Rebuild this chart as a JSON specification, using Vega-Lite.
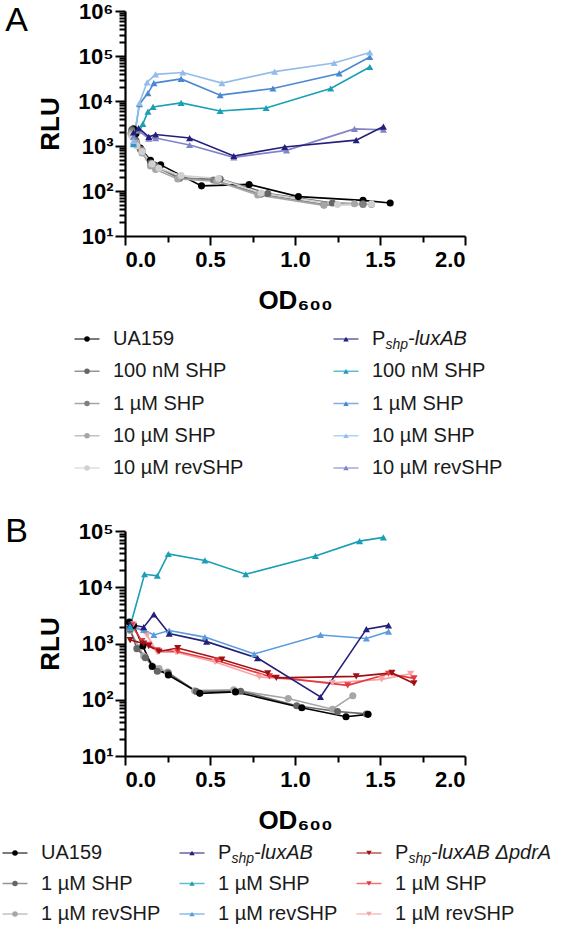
{
  "$schema": "https://vega.github.io/schema/vega-lite/v6.json",
  "padding": {"left": 2, "top": 0, "right": 0, "bottom": 0},
  "spacing": 10,
  "background": "white",
  "config": {
    "font": "Liberation Sans",
    "view": {"stroke": null},
    "axis": {
      "domainColor": "#000000", "domainWidth": 2.2, "tickColor": "#000000", "tickWidth": 2,
      "labelColor": "#000000", "labelFont": "Liberation Sans", "labelFontWeight": "bold", "labelFontSize": 22,
      "titleFont": "Liberation Sans", "titleFontWeight": "bold", "titleFontSize": 26, "titleColor": "#000000",
      "grid": false
    }
  },
  "resolve": {"scale": {"x": "independent", "y": "independent"}},
  "datasets": {
    "A": [
      {"s":"a0","g":"wt","od":0.05,"rlu":2400},{"s":"a0","g":"wt","od":0.065,"rlu":1900},{"s":"a0","g":"wt","od":0.09,"rlu":900},{"s":"a0","g":"wt","od":0.15,"rlu":480},{"s":"a0","g":"wt","od":0.21,"rlu":380},{"s":"a0","g":"wt","od":0.45,"rlu":130},{"s":"a0","g":"wt","od":0.73,"rlu":140},{"s":"a0","g":"wt","od":1.02,"rlu":75},{"s":"a0","g":"wt","od":1.40,"rlu":62},{"s":"a0","g":"wt","od":1.56,"rlu":54},
      {"s":"a1","g":"wt","od":0.04,"rlu":2300},{"s":"a1","g":"wt","od":0.065,"rlu":1300},{"s":"a1","g":"wt","od":0.09,"rlu":850},{"s":"a1","g":"wt","od":0.15,"rlu":420},{"s":"a1","g":"wt","od":0.18,"rlu":360},{"s":"a1","g":"wt","od":0.32,"rlu":190},{"s":"a1","g":"wt","od":0.56,"rlu":185},{"s":"a1","g":"wt","od":0.84,"rlu":88},{"s":"a1","g":"wt","od":1.22,"rlu":54},{"s":"a1","g":"wt","od":1.40,"rlu":52},
      {"s":"a2","g":"wt","od":0.04,"rlu":2100},{"s":"a2","g":"wt","od":0.07,"rlu":1100},{"s":"a2","g":"wt","od":0.10,"rlu":800},{"s":"a2","g":"wt","od":0.16,"rlu":380},{"s":"a2","g":"wt","od":0.19,"rlu":330},{"s":"a2","g":"wt","od":0.32,"rlu":200},{"s":"a2","g":"wt","od":0.52,"rlu":175},{"s":"a2","g":"wt","od":0.80,"rlu":85},{"s":"a2","g":"wt","od":1.17,"rlu":50},{"s":"a2","g":"wt","od":1.40,"rlu":50},
      {"s":"a3","g":"wt","od":0.035,"rlu":1900},{"s":"a3","g":"wt","od":0.065,"rlu":1200},{"s":"a3","g":"wt","od":0.10,"rlu":700},{"s":"a3","g":"wt","od":0.15,"rlu":360},{"s":"a3","g":"wt","od":0.18,"rlu":300},{"s":"a3","g":"wt","od":0.31,"rlu":185},{"s":"a3","g":"wt","od":0.54,"rlu":165},{"s":"a3","g":"wt","od":0.78,"rlu":82},{"s":"a3","g":"wt","od":1.17,"rlu":48},{"s":"a3","g":"wt","od":1.35,"rlu":52},{"s":"a3","g":"wt","od":1.45,"rlu":50},
      {"s":"a4","g":"wt","od":0.04,"rlu":1700},{"s":"a4","g":"wt","od":0.07,"rlu":1000},{"s":"a4","g":"wt","od":0.10,"rlu":750},{"s":"a4","g":"wt","od":0.16,"rlu":400},{"s":"a4","g":"wt","od":0.20,"rlu":320},{"s":"a4","g":"wt","od":0.33,"rlu":220},{"s":"a4","g":"wt","od":0.55,"rlu":190},{"s":"a4","g":"wt","od":0.80,"rlu":90},{"s":"a4","g":"wt","od":1.25,"rlu":50},{"s":"a4","g":"wt","od":1.45,"rlu":52},
      {"s":"a9","g":"lux","od":0.05,"rlu":1600},{"s":"a9","g":"lux","od":0.08,"rlu":2200},{"s":"a9","g":"lux","od":0.14,"rlu":1450},{"s":"a9","g":"lux","od":0.18,"rlu":1500},{"s":"a9","g":"lux","od":0.38,"rlu":1050},{"s":"a9","g":"lux","od":0.64,"rlu":560},{"s":"a9","g":"lux","od":0.95,"rlu":800},{"s":"a9","g":"lux","od":1.35,"rlu":2400},{"s":"a9","g":"lux","od":1.52,"rlu":2300},
      {"s":"a5","g":"lux","od":0.05,"rlu":2000},{"s":"a5","g":"lux","od":0.08,"rlu":2500},{"s":"a5","g":"lux","od":0.14,"rlu":1600},{"s":"a5","g":"lux","od":0.18,"rlu":1800},{"s":"a5","g":"lux","od":0.38,"rlu":1500},{"s":"a5","g":"lux","od":0.64,"rlu":600},{"s":"a5","g":"lux","od":0.94,"rlu":950},{"s":"a5","g":"lux","od":1.36,"rlu":1350},{"s":"a5","g":"lux","od":1.52,"rlu":2700},
      {"s":"a6","g":"lux","od":0.05,"rlu":1100},{"s":"a6","g":"lux","od":0.105,"rlu":3100},{"s":"a6","g":"lux","od":0.135,"rlu":5800},{"s":"a6","g":"lux","od":0.165,"rlu":7400},{"s":"a6","g":"lux","od":0.33,"rlu":9100},{"s":"a6","g":"lux","od":0.56,"rlu":6000},{"s":"a6","g":"lux","od":0.83,"rlu":7000},{"s":"a6","g":"lux","od":1.21,"rlu":19000},{"s":"a6","g":"lux","od":1.44,"rlu":57000},
      {"s":"a7","g":"lux","od":0.05,"rlu":1200},{"s":"a7","g":"lux","od":0.085,"rlu":8500},{"s":"a7","g":"lux","od":0.135,"rlu":15000},{"s":"a7","g":"lux","od":0.17,"rlu":25000},{"s":"a7","g":"lux","od":0.33,"rlu":31000},{"s":"a7","g":"lux","od":0.56,"rlu":13500},{"s":"a7","g":"lux","od":0.87,"rlu":19000},{"s":"a7","g":"lux","od":1.26,"rlu":41000},{"s":"a7","g":"lux","od":1.44,"rlu":95000},
      {"s":"a8","g":"lux","od":0.05,"rlu":1300},{"s":"a8","g":"lux","od":0.085,"rlu":9000},{"s":"a8","g":"lux","od":0.13,"rlu":26000},{"s":"a8","g":"lux","od":0.18,"rlu":39000},{"s":"a8","g":"lux","od":0.34,"rlu":43000},{"s":"a8","g":"lux","od":0.57,"rlu":25000},{"s":"a8","g":"lux","od":0.88,"rlu":45000},{"s":"a8","g":"lux","od":1.23,"rlu":70000},{"s":"a8","g":"lux","od":1.44,"rlu":120000}
    ],
    "B": [
      {"s":"b2","g":"wt","od":0.03,"rlu":1700},{"s":"b2","g":"wt","od":0.11,"rlu":600},{"s":"b2","g":"wt","od":0.20,"rlu":360},{"s":"b2","g":"wt","od":0.25,"rlu":310},{"s":"b2","g":"wt","od":0.41,"rlu":145},{"s":"b2","g":"wt","od":0.64,"rlu":150},{"s":"b2","g":"wt","od":0.96,"rlu":105},{"s":"b2","g":"wt","od":1.22,"rlu":68},{"s":"b2","g":"wt","od":1.34,"rlu":118},
      {"s":"b1","g":"wt","od":0.03,"rlu":1800},{"s":"b1","g":"wt","od":0.07,"rlu":810},{"s":"b1","g":"wt","od":0.12,"rlu":560},{"s":"b1","g":"wt","od":0.19,"rlu":320},{"s":"b1","g":"wt","od":0.255,"rlu":300},{"s":"b1","g":"wt","od":0.42,"rlu":140},{"s":"b1","g":"wt","od":0.68,"rlu":142},{"s":"b1","g":"wt","od":1.01,"rlu":78},{"s":"b1","g":"wt","od":1.25,"rlu":62},{"s":"b1","g":"wt","od":1.42,"rlu":56},
      {"s":"b0","g":"wt","od":0.025,"rlu":2400},{"s":"b0","g":"wt","od":0.05,"rlu":2100},{"s":"b0","g":"wt","od":0.105,"rlu":900},{"s":"b0","g":"wt","od":0.16,"rlu":390},{"s":"b0","g":"wt","od":0.255,"rlu":275},{"s":"b0","g":"wt","od":0.44,"rlu":130},{"s":"b0","g":"wt","od":0.65,"rlu":138},{"s":"b0","g":"wt","od":1.04,"rlu":72},{"s":"b0","g":"wt","od":1.30,"rlu":50},{"s":"b0","g":"wt","od":1.43,"rlu":55},
      {"s":"b8","g":"pdr","od":0.05,"rlu":2200},{"s":"b8","g":"pdr","od":0.13,"rlu":1400},{"s":"b8","g":"pdr","od":0.19,"rlu":700},{"s":"b8","g":"pdr","od":0.30,"rlu":700},{"s":"b8","g":"pdr","od":0.53,"rlu":470},{"s":"b8","g":"pdr","od":0.79,"rlu":255},{"s":"b8","g":"pdr","od":1.22,"rlu":200},{"s":"b8","g":"pdr","od":1.51,"rlu":230},{"s":"b8","g":"pdr","od":1.68,"rlu":290},
      {"s":"b7","g":"pdr","od":0.04,"rlu":2100},{"s":"b7","g":"pdr","od":0.10,"rlu":1100},{"s":"b7","g":"pdr","od":0.14,"rlu":950},{"s":"b7","g":"pdr","od":0.19,"rlu":760},{"s":"b7","g":"pdr","od":0.31,"rlu":720},{"s":"b7","g":"pdr","od":0.54,"rlu":500},{"s":"b7","g":"pdr","od":0.85,"rlu":260},{"s":"b7","g":"pdr","od":1.31,"rlu":180},{"s":"b7","g":"pdr","od":1.55,"rlu":290},{"s":"b7","g":"pdr","od":1.70,"rlu":240},
      {"s":"b6","g":"pdr","od":0.03,"rlu":1150},{"s":"b6","g":"pdr","od":0.11,"rlu":1000},{"s":"b6","g":"pdr","od":0.14,"rlu":900},{"s":"b6","g":"pdr","od":0.20,"rlu":720},{"s":"b6","g":"pdr","od":0.31,"rlu":830},{"s":"b6","g":"pdr","od":0.57,"rlu":520},{"s":"b6","g":"pdr","od":0.84,"rlu":295},{"s":"b6","g":"pdr","od":0.89,"rlu":245},{"s":"b6","g":"pdr","od":1.36,"rlu":260},{"s":"b6","g":"pdr","od":1.57,"rlu":300},{"s":"b6","g":"pdr","od":1.70,"rlu":195},
      {"s":"b5","g":"lux","od":0.03,"rlu":1900},{"s":"b5","g":"lux","od":0.11,"rlu":1750},{"s":"b5","g":"lux","od":0.17,"rlu":1420},{"s":"b5","g":"lux","od":0.26,"rlu":1700},{"s":"b5","g":"lux","od":0.47,"rlu":1300},{"s":"b5","g":"lux","od":0.76,"rlu":650},{"s":"b5","g":"lux","od":1.15,"rlu":1420},{"s":"b5","g":"lux","od":1.42,"rlu":1230},{"s":"b5","g":"lux","od":1.55,"rlu":1630},
      {"s":"b3","g":"lux","od":0.03,"rlu":2200},{"s":"b3","g":"lux","od":0.11,"rlu":1950},{"s":"b3","g":"lux","od":0.17,"rlu":3300},{"s":"b3","g":"lux","od":0.26,"rlu":1500},{"s":"b3","g":"lux","od":0.48,"rlu":1080},{"s":"b3","g":"lux","od":0.78,"rlu":550},{"s":"b3","g":"lux","od":1.15,"rlu":112},{"s":"b3","g":"lux","od":1.42,"rlu":1800},{"s":"b3","g":"lux","od":1.55,"rlu":2100},
      {"s":"b4","g":"lux","od":0.03,"rlu":2000},{"s":"b4","g":"lux","od":0.115,"rlu":17000},{"s":"b4","g":"lux","od":0.19,"rlu":16000},{"s":"b4","g":"lux","od":0.255,"rlu":39000},{"s":"b4","g":"lux","od":0.47,"rlu":30000},{"s":"b4","g":"lux","od":0.71,"rlu":17000},{"s":"b4","g":"lux","od":1.12,"rlu":36000},{"s":"b4","g":"lux","od":1.38,"rlu":66000},{"s":"b4","g":"lux","od":1.52,"rlu":77000}
    ],
    "LA": [
      {"col":0,"row":0,"s":"a0","g":"wt","t1":"UA159","t2":"","t3":""},
      {"col":0,"row":1,"s":"a1","g":"wt","t1":"100 nM SHP","t2":"","t3":""},
      {"col":0,"row":2,"s":"a2","g":"wt","t1":"1 µM SHP","t2":"","t3":""},
      {"col":0,"row":3,"s":"a3","g":"wt","t1":"10 µM SHP","t2":"","t3":""},
      {"col":0,"row":4,"s":"a4","g":"wt","t1":"10 µM revSHP","t2":"","t3":""},
      {"col":1,"row":0,"s":"a5","g":"lux","t1":"P","t2":"shp","t3":"-luxAB"},
      {"col":1,"row":1,"s":"a6","g":"lux","t1":"100 nM SHP","t2":"","t3":""},
      {"col":1,"row":2,"s":"a7","g":"lux","t1":"1 µM SHP","t2":"","t3":""},
      {"col":1,"row":3,"s":"a8","g":"lux","t1":"10 µM SHP","t2":"","t3":""},
      {"col":1,"row":4,"s":"a9","g":"lux","t1":"10 µM revSHP","t2":"","t3":""}
    ],
    "LB": [
      {"col":0,"row":0,"s":"b0","g":"wt","t1":"UA159","t2":"","t3":""},
      {"col":0,"row":1,"s":"b1","g":"wt","t1":"1 µM SHP","t2":"","t3":""},
      {"col":0,"row":2,"s":"b2","g":"wt","t1":"1 µM revSHP","t2":"","t3":""},
      {"col":1,"row":0,"s":"b3","g":"lux","t1":"P","t2":"shp","t3":"-luxAB"},
      {"col":1,"row":1,"s":"b4","g":"lux","t1":"1 µM SHP","t2":"","t3":""},
      {"col":1,"row":2,"s":"b5","g":"lux","t1":"1 µM revSHP","t2":"","t3":""},
      {"col":2,"row":0,"s":"b6","g":"pdr","t1":"P","t2":"shp","t3":"-luxAB ΔpdrA"},
      {"col":2,"row":1,"s":"b7","g":"pdr","t1":"1 µM SHP","t2":"","t3":""},
      {"col":2,"row":2,"s":"b8","g":"pdr","t1":"1 µM revSHP","t2":"","t3":""}
    ]
  },
  "vconcat": [
    {
      "width": 340, "height": 225,
      "title": {"text": "A", "orient": "left", "anchor": "end", "angle": 0, "align": "right", "baseline": "alphabetic", "frame": "group", "fontSize": 34, "fontWeight": "normal", "font": "Liberation Sans", "color": "#000000", "offset": -13, "dy": 20},
      "data": {"name": "A"},
      "encoding": {
        "x": {"field": "od", "type": "quantitative", "scale": {"domain": [0, 2], "nice": false},
          "axis": {"title": "OD₆₀₀", "values": [0,0.25,0.5,0.75,1,1.25,1.5,1.75,2], "labelExpr": "datum.value*2 == round(datum.value*2) ? format(datum.value, '.1f') : ''",
            "tickSize": {"condition": {"test": "datum.value*2 == round(datum.value*2)", "value": 9}, "value": 6}, "labelPadding": 4, "titlePadding": 17}},
        "y": {"field": "rlu", "type": "quantitative", "scale": {"type": "log", "domain": [10, 1000000], "nice": false},
          "axis": {"title": "RLU", "values": [10,20,30,40,50,60,70,80,90,100,200,300,400,500,600,700,800,900,1000,2000,3000,4000,5000,6000,7000,8000,9000,10000,20000,30000,40000,50000,60000,70000,80000,90000,100000,200000,300000,400000,500000,600000,700000,800000,900000,1000000],
            "labelExpr": "datum.value==10?'10¹':datum.value==100?'10²':datum.value==1000?'10³':datum.value==10000?'10⁴':datum.value==100000?'10⁵':datum.value==1000000?'10⁶':''",
            "tickSize": {"condition": {"test": "indexof([10,100,1000,10000,100000,1000000], datum.value) >= 0", "value": 10}, "value": 6},
            "labelPadding": 2, "titlePadding": 14, "labelFlush": false, "labelOverlap": false}},
        "color": {"field": "s", "type": "nominal", "legend": null,
          "scale": {"domain": ["a0","a1","a2","a3","a4","a5","a6","a7","a8","a9","b0","b1","b2","b3","b4","b5","b6","b7","b8"],
            "range": ["#000000","#666666","#808080","#a6a6a6","#d0d0d0","#22207a","#1a9fb6","#4b88d4","#93bde9","#8282c9","#000000","#666666","#a6a6a6","#22207a","#1a9fb6","#5b9bdc","#9e1016","#e8383d","#f5a3a3"]}}
      },
      "layer": [
        {"mark": {"type": "line", "strokeWidth": 1.6}},
        {"mark": {"type": "point", "filled": true, "opacity": 1, "size": 50},
          "encoding": {"shape": {"field": "g", "type": "nominal", "legend": null, "scale": {"domain": ["wt","lux","pdr"], "range": ["circle","triangle-up","triangle-down"]}}}}
      ]
    },
    {
      "width": 259, "height": 182,
      "data": {"name": "LA"},
      "encoding": {
        "x": {"field": "col", "type": "ordinal", "scale": {"type": "point", "padding": 0}, "axis": null},
        "y": {"field": "row", "type": "ordinal", "scale": {"type": "point", "padding": 0.822, "align": 0.302}, "axis": null},
        "color": {"field": "s", "type": "nominal", "legend": null,
          "scale": {"domain": ["a0","a1","a2","a3","a4","a5","a6","a7","a8","a9","b0","b1","b2","b3","b4","b5","b6","b7","b8"],
            "range": ["#000000","#666666","#808080","#a6a6a6","#d0d0d0","#22207a","#1a9fb6","#4b88d4","#93bde9","#8282c9","#000000","#666666","#a6a6a6","#22207a","#1a9fb6","#5b9bdc","#9e1016","#e8383d","#f5a3a3"]}}
      },
      "layer": [
        {"mark": {"type": "tick", "orient": "horizontal", "size": 25, "thickness": 1.5, "xOffset": -38}},
        {"mark": {"type": "point", "filled": true, "opacity": 1, "size": 30, "xOffset": -38},
          "encoding": {"shape": {"field": "g", "type": "nominal", "legend": null, "scale": {"domain": ["wt","lux","pdr"], "range": ["circle","triangle-up","triangle-down"]}}}},
        {"mark": {"type": "text", "align": "left", "baseline": "middle", "fontSize": 20, "xOffset": -38, "dx": 26, "font": "Liberation Sans"},
          "encoding": {"text": {"field": "t1", "type": "nominal"}, "color": {"value": "#1a1a1a"}}},
        {"mark": {"type": "text", "align": "left", "baseline": "middle", "fontSize": 14, "fontStyle": "italic", "xOffset": -38, "dx": 39.5, "dy": 6, "font": "Liberation Sans"},
          "encoding": {"text": {"field": "t2", "type": "nominal"}, "color": {"value": "#1a1a1a"}}},
        {"mark": {"type": "text", "align": "left", "baseline": "middle", "fontSize": 20, "fontStyle": "italic", "xOffset": -38, "dx": 62, "font": "Liberation Sans"},
          "encoding": {"text": {"field": "t3", "type": "nominal"}, "color": {"value": "#1a1a1a"}}}
      ]
    },
    {
      "width": 340, "height": 225,
      "title": {"text": "B", "orient": "left", "anchor": "end", "angle": 0, "align": "right", "baseline": "alphabetic", "frame": "group", "fontSize": 34, "fontWeight": "normal", "font": "Liberation Sans", "color": "#000000", "offset": -13, "dy": 11},
      "data": {"name": "B"},
      "encoding": {
        "x": {"field": "od", "type": "quantitative", "scale": {"domain": [0, 2], "nice": false},
          "axis": {"title": "OD₆₀₀", "values": [0,0.25,0.5,0.75,1,1.25,1.5,1.75,2], "labelExpr": "datum.value*2 == round(datum.value*2) ? format(datum.value, '.1f') : ''",
            "tickSize": {"condition": {"test": "datum.value*2 == round(datum.value*2)", "value": 9}, "value": 6}, "labelPadding": 4, "titlePadding": 17}},
        "y": {"field": "rlu", "type": "quantitative", "scale": {"type": "log", "domain": [10, 100000], "nice": false},
          "axis": {"title": "RLU", "values": [10,20,30,40,50,60,70,80,90,100,200,300,400,500,600,700,800,900,1000,2000,3000,4000,5000,6000,7000,8000,9000,10000,20000,30000,40000,50000,60000,70000,80000,90000,100000],
            "labelExpr": "datum.value==10?'10¹':datum.value==100?'10²':datum.value==1000?'10³':datum.value==10000?'10⁴':datum.value==100000?'10⁵':''",
            "tickSize": {"condition": {"test": "indexof([10,100,1000,10000,100000], datum.value) >= 0", "value": 10}, "value": 6},
            "labelPadding": 2, "titlePadding": 14, "labelFlush": false, "labelOverlap": false}},
        "color": {"field": "s", "type": "nominal", "legend": null,
          "scale": {"domain": ["a0","a1","a2","a3","a4","a5","a6","a7","a8","a9","b0","b1","b2","b3","b4","b5","b6","b7","b8"],
            "range": ["#000000","#666666","#808080","#a6a6a6","#d0d0d0","#22207a","#1a9fb6","#4b88d4","#93bde9","#8282c9","#000000","#666666","#a6a6a6","#22207a","#1a9fb6","#5b9bdc","#9e1016","#e8383d","#f5a3a3"]}}
      },
      "layer": [
        {"mark": {"type": "line", "strokeWidth": 1.6}},
        {"mark": {"type": "point", "filled": true, "opacity": 1, "size": 50},
          "encoding": {"shape": {"field": "g", "type": "nominal", "legend": null, "scale": {"domain": ["wt","lux","pdr"], "range": ["circle","triangle-up","triangle-down"]}}}}
      ]
    },
    {
      "width": 354, "height": 81,
      "data": {"name": "LB"},
      "encoding": {
        "x": {"field": "col", "type": "ordinal", "scale": {"type": "point", "padding": 0}, "axis": null},
        "y": {"field": "row", "type": "ordinal", "scale": {"type": "point", "padding": 0.328, "align": 0.5}, "axis": null},
        "color": {"field": "s", "type": "nominal", "legend": null,
          "scale": {"domain": ["a0","a1","a2","a3","a4","a5","a6","a7","a8","a9","b0","b1","b2","b3","b4","b5","b6","b7","b8"],
            "range": ["#000000","#666666","#808080","#a6a6a6","#d0d0d0","#22207a","#1a9fb6","#4b88d4","#93bde9","#8282c9","#000000","#666666","#a6a6a6","#22207a","#1a9fb6","#5b9bdc","#9e1016","#e8383d","#f5a3a3"]}}
      },
      "layer": [
        {"mark": {"type": "tick", "orient": "horizontal", "size": 25, "thickness": 1.5, "xOffset": -110}},
        {"mark": {"type": "point", "filled": true, "opacity": 1, "size": 30, "xOffset": -110},
          "encoding": {"shape": {"field": "g", "type": "nominal", "legend": null, "scale": {"domain": ["wt","lux","pdr"], "range": ["circle","triangle-up","triangle-down"]}}}},
        {"mark": {"type": "text", "align": "left", "baseline": "middle", "fontSize": 20, "xOffset": -110, "dx": 26, "font": "Liberation Sans"},
          "encoding": {"text": {"field": "t1", "type": "nominal"}, "color": {"value": "#1a1a1a"}}},
        {"mark": {"type": "text", "align": "left", "baseline": "middle", "fontSize": 14, "fontStyle": "italic", "xOffset": -110, "dx": 39.5, "dy": 6, "font": "Liberation Sans"},
          "encoding": {"text": {"field": "t2", "type": "nominal"}, "color": {"value": "#1a1a1a"}}},
        {"mark": {"type": "text", "align": "left", "baseline": "middle", "fontSize": 20, "fontStyle": "italic", "xOffset": -110, "dx": 62, "font": "Liberation Sans"},
          "encoding": {"text": {"field": "t3", "type": "nominal"}, "color": {"value": "#1a1a1a"}}}
      ]
    }
  ]
}
